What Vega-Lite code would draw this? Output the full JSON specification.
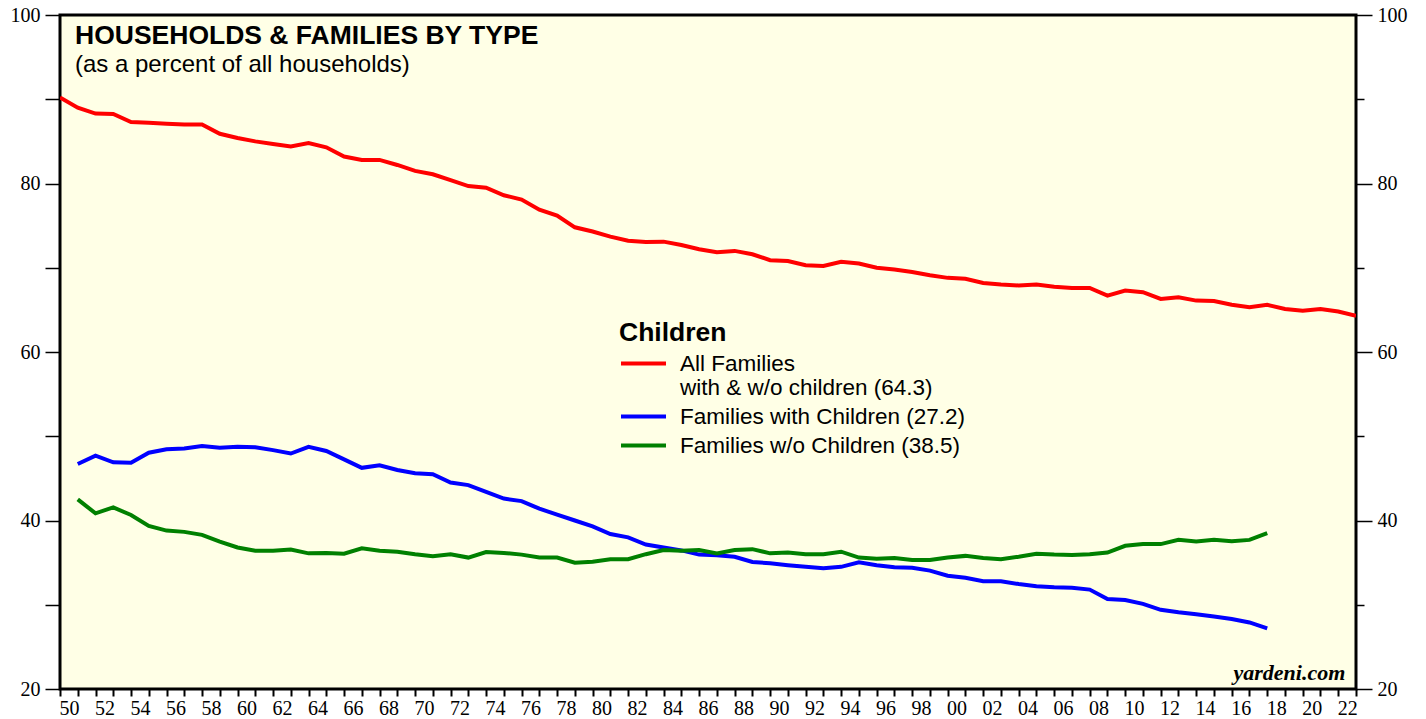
{
  "$schema": "https://vega.github.io/schema/vega-lite/v6.json",
  "width": 1296,
  "height": 674,
  "autosize": {"type": "none"},
  "padding": {"left": 60, "top": 15, "right": 70, "bottom": 30},
  "background": "white",
  "config": {
    "view": {"fill": "#ffffe6", "stroke": "black", "strokeWidth": 3},
    "font": "Liberation Sans"
  },
  "title": {
    "text": "HOUSEHOLDS & FAMILIES BY TYPE",
    "subtitle": "(as a percent of all households)",
    "anchor": "start",
    "frame": "group",
    "offset": -72,
    "dx": 15,
    "font": "Liberation Sans",
    "fontSize": 26.5,
    "fontWeight": "bold",
    "color": "black",
    "subtitleFont": "Liberation Sans",
    "subtitleFontSize": 24,
    "subtitleColor": "black",
    "subtitlePadding": 4
  },
  "resolve": {"axis": {"y": "independent"}},
  "layer": [
    {
      "data": {"values": [
        {"series":"all","year":1950,"value":90.2},{"series":"all","year":1951,"value":89.0},{"series":"all","year":1952,"value":88.3},{"series":"all","year":1953,"value":88.25},{"series":"all","year":1954,"value":87.3},{"series":"all","year":1955,"value":87.2},{"series":"all","year":1956,"value":87.1},{"series":"all","year":1957,"value":87.0},{"series":"all","year":1958,"value":87.0},{"series":"all","year":1959,"value":85.9},
        {"series":"all","year":1960,"value":85.4},{"series":"all","year":1961,"value":85.0},{"series":"all","year":1962,"value":84.7},{"series":"all","year":1963,"value":84.4},{"series":"all","year":1964,"value":84.8},{"series":"all","year":1965,"value":84.3},{"series":"all","year":1966,"value":83.2},{"series":"all","year":1967,"value":82.8},{"series":"all","year":1968,"value":82.8},{"series":"all","year":1969,"value":82.2},
        {"series":"all","year":1970,"value":81.5},{"series":"all","year":1971,"value":81.1},{"series":"all","year":1972,"value":80.4},{"series":"all","year":1973,"value":79.7},{"series":"all","year":1974,"value":79.5},{"series":"all","year":1975,"value":78.6},{"series":"all","year":1976,"value":78.1},{"series":"all","year":1977,"value":76.9},{"series":"all","year":1978,"value":76.2},{"series":"all","year":1979,"value":74.8},
        {"series":"all","year":1980,"value":74.3},{"series":"all","year":1981,"value":73.7},{"series":"all","year":1982,"value":73.2},{"series":"all","year":1983,"value":73.05},{"series":"all","year":1984,"value":73.1},{"series":"all","year":1985,"value":72.7},{"series":"all","year":1986,"value":72.2},{"series":"all","year":1987,"value":71.85},{"series":"all","year":1988,"value":72.0},{"series":"all","year":1989,"value":71.6},
        {"series":"all","year":1990,"value":70.9},{"series":"all","year":1991,"value":70.8},{"series":"all","year":1992,"value":70.3},{"series":"all","year":1993,"value":70.2},{"series":"all","year":1994,"value":70.7},{"series":"all","year":1995,"value":70.5},{"series":"all","year":1996,"value":70.0},{"series":"all","year":1997,"value":69.8},{"series":"all","year":1998,"value":69.5},{"series":"all","year":1999,"value":69.1},
        {"series":"all","year":2000,"value":68.8},{"series":"all","year":2001,"value":68.7},{"series":"all","year":2002,"value":68.2},{"series":"all","year":2003,"value":68.0},{"series":"all","year":2004,"value":67.9},{"series":"all","year":2005,"value":68.0},{"series":"all","year":2006,"value":67.75},{"series":"all","year":2007,"value":67.6},{"series":"all","year":2008,"value":67.6},{"series":"all","year":2009,"value":66.7},
        {"series":"all","year":2010,"value":67.3},{"series":"all","year":2011,"value":67.1},{"series":"all","year":2012,"value":66.3},{"series":"all","year":2013,"value":66.5},{"series":"all","year":2014,"value":66.1},{"series":"all","year":2015,"value":66.05},{"series":"all","year":2016,"value":65.6},{"series":"all","year":2017,"value":65.3},{"series":"all","year":2018,"value":65.6},{"series":"all","year":2019,"value":65.1},
        {"series":"all","year":2020,"value":64.9},{"series":"all","year":2021,"value":65.1},{"series":"all","year":2022,"value":64.8},{"series":"all","year":2023,"value":64.3},
        {"series":"with","year":1951,"value":46.7},{"series":"with","year":1952,"value":47.7},{"series":"with","year":1953,"value":46.9},{"series":"with","year":1954,"value":46.85},{"series":"with","year":1955,"value":48.05},{"series":"with","year":1956,"value":48.45},{"series":"with","year":1957,"value":48.55},{"series":"with","year":1958,"value":48.85},{"series":"with","year":1959,"value":48.65},
        {"series":"with","year":1960,"value":48.75},{"series":"with","year":1961,"value":48.7},{"series":"with","year":1962,"value":48.35},{"series":"with","year":1963,"value":47.95},{"series":"with","year":1964,"value":48.75},{"series":"with","year":1965,"value":48.25},{"series":"with","year":1966,"value":47.25},{"series":"with","year":1967,"value":46.25},{"series":"with","year":1968,"value":46.55},{"series":"with","year":1969,"value":46.0},
        {"series":"with","year":1970,"value":45.6},{"series":"with","year":1971,"value":45.5},{"series":"with","year":1972,"value":44.5},{"series":"with","year":1973,"value":44.2},{"series":"with","year":1974,"value":43.4},{"series":"with","year":1975,"value":42.6},{"series":"with","year":1976,"value":42.3},{"series":"with","year":1977,"value":41.4},{"series":"with","year":1978,"value":40.7},{"series":"with","year":1979,"value":40.0},
        {"series":"with","year":1980,"value":39.3},{"series":"with","year":1981,"value":38.4},{"series":"with","year":1982,"value":38.0},{"series":"with","year":1983,"value":37.15},{"series":"with","year":1984,"value":36.8},{"series":"with","year":1985,"value":36.45},{"series":"with","year":1986,"value":35.95},{"series":"with","year":1987,"value":35.87},{"series":"with","year":1988,"value":35.7},{"series":"with","year":1989,"value":35.07},
        {"series":"with","year":1990,"value":34.92},{"series":"with","year":1991,"value":34.7},{"series":"with","year":1992,"value":34.5},{"series":"with","year":1993,"value":34.33},{"series":"with","year":1994,"value":34.5},{"series":"with","year":1995,"value":35.03},{"series":"with","year":1996,"value":34.7},{"series":"with","year":1997,"value":34.44},{"series":"with","year":1998,"value":34.4},{"series":"with","year":1999,"value":34.05},
        {"series":"with","year":2000,"value":33.45},{"series":"with","year":2001,"value":33.2},{"series":"with","year":2002,"value":32.8},{"series":"with","year":2003,"value":32.8},{"series":"with","year":2004,"value":32.46},{"series":"with","year":2005,"value":32.2},{"series":"with","year":2006,"value":32.07},{"series":"with","year":2007,"value":32.03},{"series":"with","year":2008,"value":31.8},{"series":"with","year":2009,"value":30.68},
        {"series":"with","year":2010,"value":30.56},{"series":"with","year":2011,"value":30.1},{"series":"with","year":2012,"value":29.4},{"series":"with","year":2013,"value":29.1},{"series":"with","year":2014,"value":28.86},{"series":"with","year":2015,"value":28.6},{"series":"with","year":2016,"value":28.3},{"series":"with","year":2017,"value":27.9},{"series":"with","year":2018,"value":27.2},
        {"series":"without","year":1951,"value":42.5},{"series":"without","year":1952,"value":40.85},{"series":"without","year":1953,"value":41.55},{"series":"without","year":1954,"value":40.65},{"series":"without","year":1955,"value":39.35},{"series":"without","year":1956,"value":38.8},{"series":"without","year":1957,"value":38.65},{"series":"without","year":1958,"value":38.3},{"series":"without","year":1959,"value":37.5},
        {"series":"without","year":1960,"value":36.8},{"series":"without","year":1961,"value":36.4},{"series":"without","year":1962,"value":36.4},{"series":"without","year":1963,"value":36.55},{"series":"without","year":1964,"value":36.1},{"series":"without","year":1965,"value":36.15},{"series":"without","year":1966,"value":36.05},{"series":"without","year":1967,"value":36.7},{"series":"without","year":1968,"value":36.4},{"series":"without","year":1969,"value":36.3},
        {"series":"without","year":1970,"value":36.0},{"series":"without","year":1971,"value":35.75},{"series":"without","year":1972,"value":36.0},{"series":"without","year":1973,"value":35.6},{"series":"without","year":1974,"value":36.25},{"series":"without","year":1975,"value":36.15},{"series":"without","year":1976,"value":35.95},{"series":"without","year":1977,"value":35.6},{"series":"without","year":1978,"value":35.6},{"series":"without","year":1979,"value":35.0},
        {"series":"without","year":1980,"value":35.1},{"series":"without","year":1981,"value":35.4},{"series":"without","year":1982,"value":35.4},{"series":"without","year":1983,"value":36.0},{"series":"without","year":1984,"value":36.5},{"series":"without","year":1985,"value":36.4},{"series":"without","year":1986,"value":36.5},{"series":"without","year":1987,"value":36.1},{"series":"without","year":1988,"value":36.5},{"series":"without","year":1989,"value":36.6},
        {"series":"without","year":1990,"value":36.1},{"series":"without","year":1991,"value":36.2},{"series":"without","year":1992,"value":36.0},{"series":"without","year":1993,"value":36.0},{"series":"without","year":1994,"value":36.3},{"series":"without","year":1995,"value":35.6},{"series":"without","year":1996,"value":35.45},{"series":"without","year":1997,"value":35.55},{"series":"without","year":1998,"value":35.3},{"series":"without","year":1999,"value":35.3},
        {"series":"without","year":2000,"value":35.6},{"series":"without","year":2001,"value":35.8},{"series":"without","year":2002,"value":35.55},{"series":"without","year":2003,"value":35.4},{"series":"without","year":2004,"value":35.7},{"series":"without","year":2005,"value":36.05},{"series":"without","year":2006,"value":35.95},{"series":"without","year":2007,"value":35.9},{"series":"without","year":2008,"value":36.0},{"series":"without","year":2009,"value":36.2},
        {"series":"without","year":2010,"value":37.0},{"series":"without","year":2011,"value":37.2},{"series":"without","year":2012,"value":37.2},{"series":"without","year":2013,"value":37.7},{"series":"without","year":2014,"value":37.5},{"series":"without","year":2015,"value":37.7},{"series":"without","year":2016,"value":37.55},{"series":"without","year":2017,"value":37.7},{"series":"without","year":2018,"value":38.5}
      ]},
      "mark": {"type": "line", "strokeWidth": 4, "clip": true},
      "encoding": {
        "x": {
          "field": "year", "type": "quantitative",
          "scale": {"domain": [1950, 2023], "nice": false, "zero": false},
          "axis": {
            "orient": "bottom", "title": null, "grid": false, "domain": false,
            "values": [1950,1951,1952,1953,1954,1955,1956,1957,1958,1959,1960,1961,1962,1963,1964,1965,1966,1967,1968,1969,1970,1971,1972,1973,1974,1975,1976,1977,1978,1979,1980,1981,1982,1983,1984,1985,1986,1987,1988,1989,1990,1991,1992,1993,1994,1995,1996,1997,1998,1999,2000,2001,2002,2003,2004,2005,2006,2007,2008,2009,2010,2011,2012,2013,2014,2015,2016,2017,2018,2019,2020,2021,2022,2023],
            "labelExpr": "datum.value % 2 == 0 && datum.value < 2023 ? slice(toString(datum.value), 2) : ''",
            "labelOffset": 8.9, "labelFlush": false, "labelOverlap": false,
            "ticks": true, "tickSize": 7, "tickWidth": 2, "tickColor": "black",
            "labelFont": "Liberation Serif", "labelFontSize": 20, "labelColor": "black", "labelPadding": 2
          }
        },
        "y": {
          "field": "value", "type": "quantitative",
          "scale": {"domain": [20, 100], "nice": false, "zero": false},
          "axis": {
            "orient": "left", "title": null, "grid": false, "domain": false,
            "values": [20,30,40,50,60,70,80,90,100],
            "labelExpr": "datum.value % 20 == 0 ? datum.label : ''",
            "tickSize": 15, "tickWidth": 1.5, "tickColor": "black",
            "labelFont": "Liberation Serif", "labelFontSize": 20, "labelColor": "black", "labelPadding": 5
          }
        },
        "color": {
          "field": "series", "type": "nominal",
          "scale": {"domain": ["all", "with", "without"], "range": ["#ff0000", "#0000ff", "#008000"]},
          "legend": {
            "orient": "none", "legendX": 559, "legendY": 305,
            "title": "Children", "titleFont": "Liberation Sans", "titleFontSize": 26.5, "titleFontWeight": "bold", "titleColor": "black", "titlePadding": 0,
            "labelFont": "Liberation Sans", "labelFontSize": 22.5, "labelColor": "black", "labelBaseline": "alphabetic", "labelOffset": 12, "labelLimit": 0,
            "symbolType": "M-1,-0.33H1", "symbolSize": 2025, "symbolStrokeWidth": 4, "rowPadding": 0,
            "labelExpr": "datum.label == 'all' ? ['All Families', 'with & w/o children (64.3)'] : datum.label == 'with' ? 'Families with Children (27.2)' : 'Families w/o Children (38.5)'",
            "encode": {"labels": {"update": {"lineHeight": {"value": 24}}}}
          }
        }
      }
    },
    {
      "data": {"values": [{"t": "yardeni.com"}]},
      "mark": {"type": "text", "font": "Liberation Serif", "fontStyle": "italic", "fontWeight": "bold", "fontSize": 22, "align": "right", "baseline": "alphabetic", "color": "black"},
      "encoding": {
        "x": {
          "datum": 2022.4, "type": "quantitative",
          "axis": {
            "orient": "bottom", "title": null, "grid": false, "domain": false,
            "values": [1950,1951,1952,1953,1954,1955,1956,1957,1958,1959,1960,1961,1962,1963,1964,1965,1966,1967,1968,1969,1970,1971,1972,1973,1974,1975,1976,1977,1978,1979,1980,1981,1982,1983,1984,1985,1986,1987,1988,1989,1990,1991,1992,1993,1994,1995,1996,1997,1998,1999,2000,2001,2002,2003,2004,2005,2006,2007,2008,2009,2010,2011,2012,2013,2014,2015,2016,2017,2018,2019,2020,2021,2022,2023],
            "labelExpr": "datum.value % 2 == 0 && datum.value < 2023 ? slice(toString(datum.value), 2) : ''",
            "labelOffset": 8.9, "labelFlush": false, "labelOverlap": false,
            "ticks": true, "tickSize": 7, "tickWidth": 2, "tickColor": "black",
            "labelFont": "Liberation Serif", "labelFontSize": 20, "labelColor": "black", "labelPadding": 2
          }
        },
        "y": {
          "datum": 21.1, "type": "quantitative",
          "axis": {
            "orient": "right", "title": null, "grid": false, "domain": false,
            "values": [20,30,40,50,60,70,80,90,100],
            "labelExpr": "datum.value % 20 == 0 ? datum.label : ''",
            "tickSize": {"condition": {"test": "datum.value % 20 == 0", "value": 16}, "value": 8},
            "tickWidth": 1.5, "tickColor": "black",
            "labelFont": "Liberation Serif", "labelFontSize": 20, "labelColor": "black", "labelPadding": 5
          }
        },
        "text": {"field": "t"}
      }
    }
  ]
}
